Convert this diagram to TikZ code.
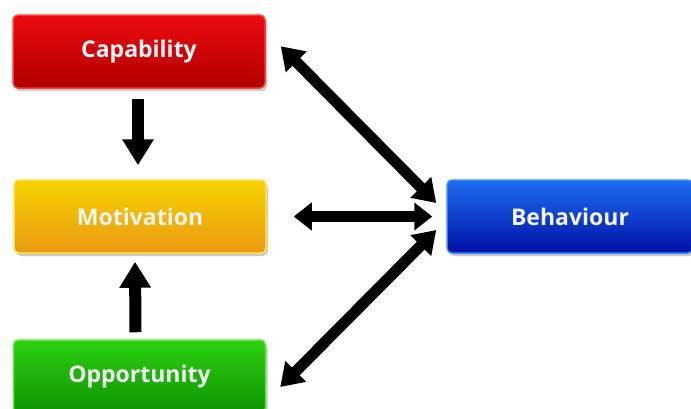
\documentclass[tikz,border=0pt]{standalone}
\usepackage{fontspec}
\setmainfont{Open Sans}
\usetikzlibrary{arrows.meta,shadows,calc}
\definecolor{redtop}{HTML}{EC0A10}
\definecolor{redbot}{HTML}{B00000}
\definecolor{redrim}{HTML}{FF3A3A}
\definecolor{yeltop}{HTML}{F6D200}
\definecolor{yelbot}{HTML}{EA9A12}
\definecolor{yelrim}{HTML}{FFE24A}
\definecolor{grntop}{HTML}{2ED012}
\definecolor{grnbot}{HTML}{0C9400}
\definecolor{grnrim}{HTML}{5AE83A}
\definecolor{blutop}{HTML}{1E6EF2}
\definecolor{blubot}{HTML}{0010A6}
\definecolor{blurim}{HTML}{3C88FF}
\definecolor{txt}{HTML}{F4F4F4}
\tikzset{
  boxstyle/.style={rectangle, rounded corners=5pt, minimum width=252pt, minimum height=73pt,
    line width=1.5pt, font=\fontsize{23}{27}\selectfont\bfseries, text=txt,
    drop shadow={shadow xshift=2pt, shadow yshift=-3pt, opacity=0.35, fill=black!60}},
  bigarrow/.style={line width=11pt, black, {Triangle[width=28pt,length=22pt]}-{Triangle[width=28pt,length=22pt]}},
  onearrow/.style={line width=12pt, black, -{Triangle[width=30pt,length=26pt]}}
}
\begin{document}
\begin{tikzpicture}[x=1pt,y=-1pt]
\useasboundingbox (0,0) rectangle (691,408);
\node[boxstyle, draw=redrim, top color=redtop, bottom color=redbot] (cap) at (139,51.5) {Capability};
\node[boxstyle, draw=yelrim, top color=yeltop, bottom color=yelbot] (mot) at (140,216.5) {Motivation};
\node[boxstyle, draw=grnrim, top color=grntop, bottom color=grnbot] (opp) at (139.5,376.5) {Opportunity};
\node[boxstyle, minimum width=246pt, draw=blurim, top color=blutop, bottom color=blubot] (beh) at (570,216.5) {Behaviour};
\coordinate (capend) at ($(cap.north east)+(15,32)$);
\coordinate (behtop) at ($(beh.west)+(-10,-13.5)$);
\coordinate (behmid) at ($(beh.west)+(-14,0)$);
\coordinate (behbot) at ($(beh.west)+(-10,13.5)$);
\coordinate (motend) at ($(mot.east)+(27,0)$);
\coordinate (oppend) at ($(opp.east)+(14,10.5)$);
\draw[bigarrow] (capend) -- (behtop);
\draw[bigarrow, {Triangle[width=27pt,length=18pt]}-{Triangle[width=27pt,length=18pt]}] (motend) -- (behmid);
\draw[bigarrow] (behbot) -- (oppend);
\draw[onearrow, shorten <=10pt, shorten >=14pt] ($(cap.south)+(-1,0)$) -- ($(mot.north)+(-2,0)$);
\draw[onearrow, shorten <=7pt, shorten >=8pt] ($(opp.north)+(-4,0)$) -- ($(mot.south)+(-5,0)$);
\end{tikzpicture}
\end{document}
